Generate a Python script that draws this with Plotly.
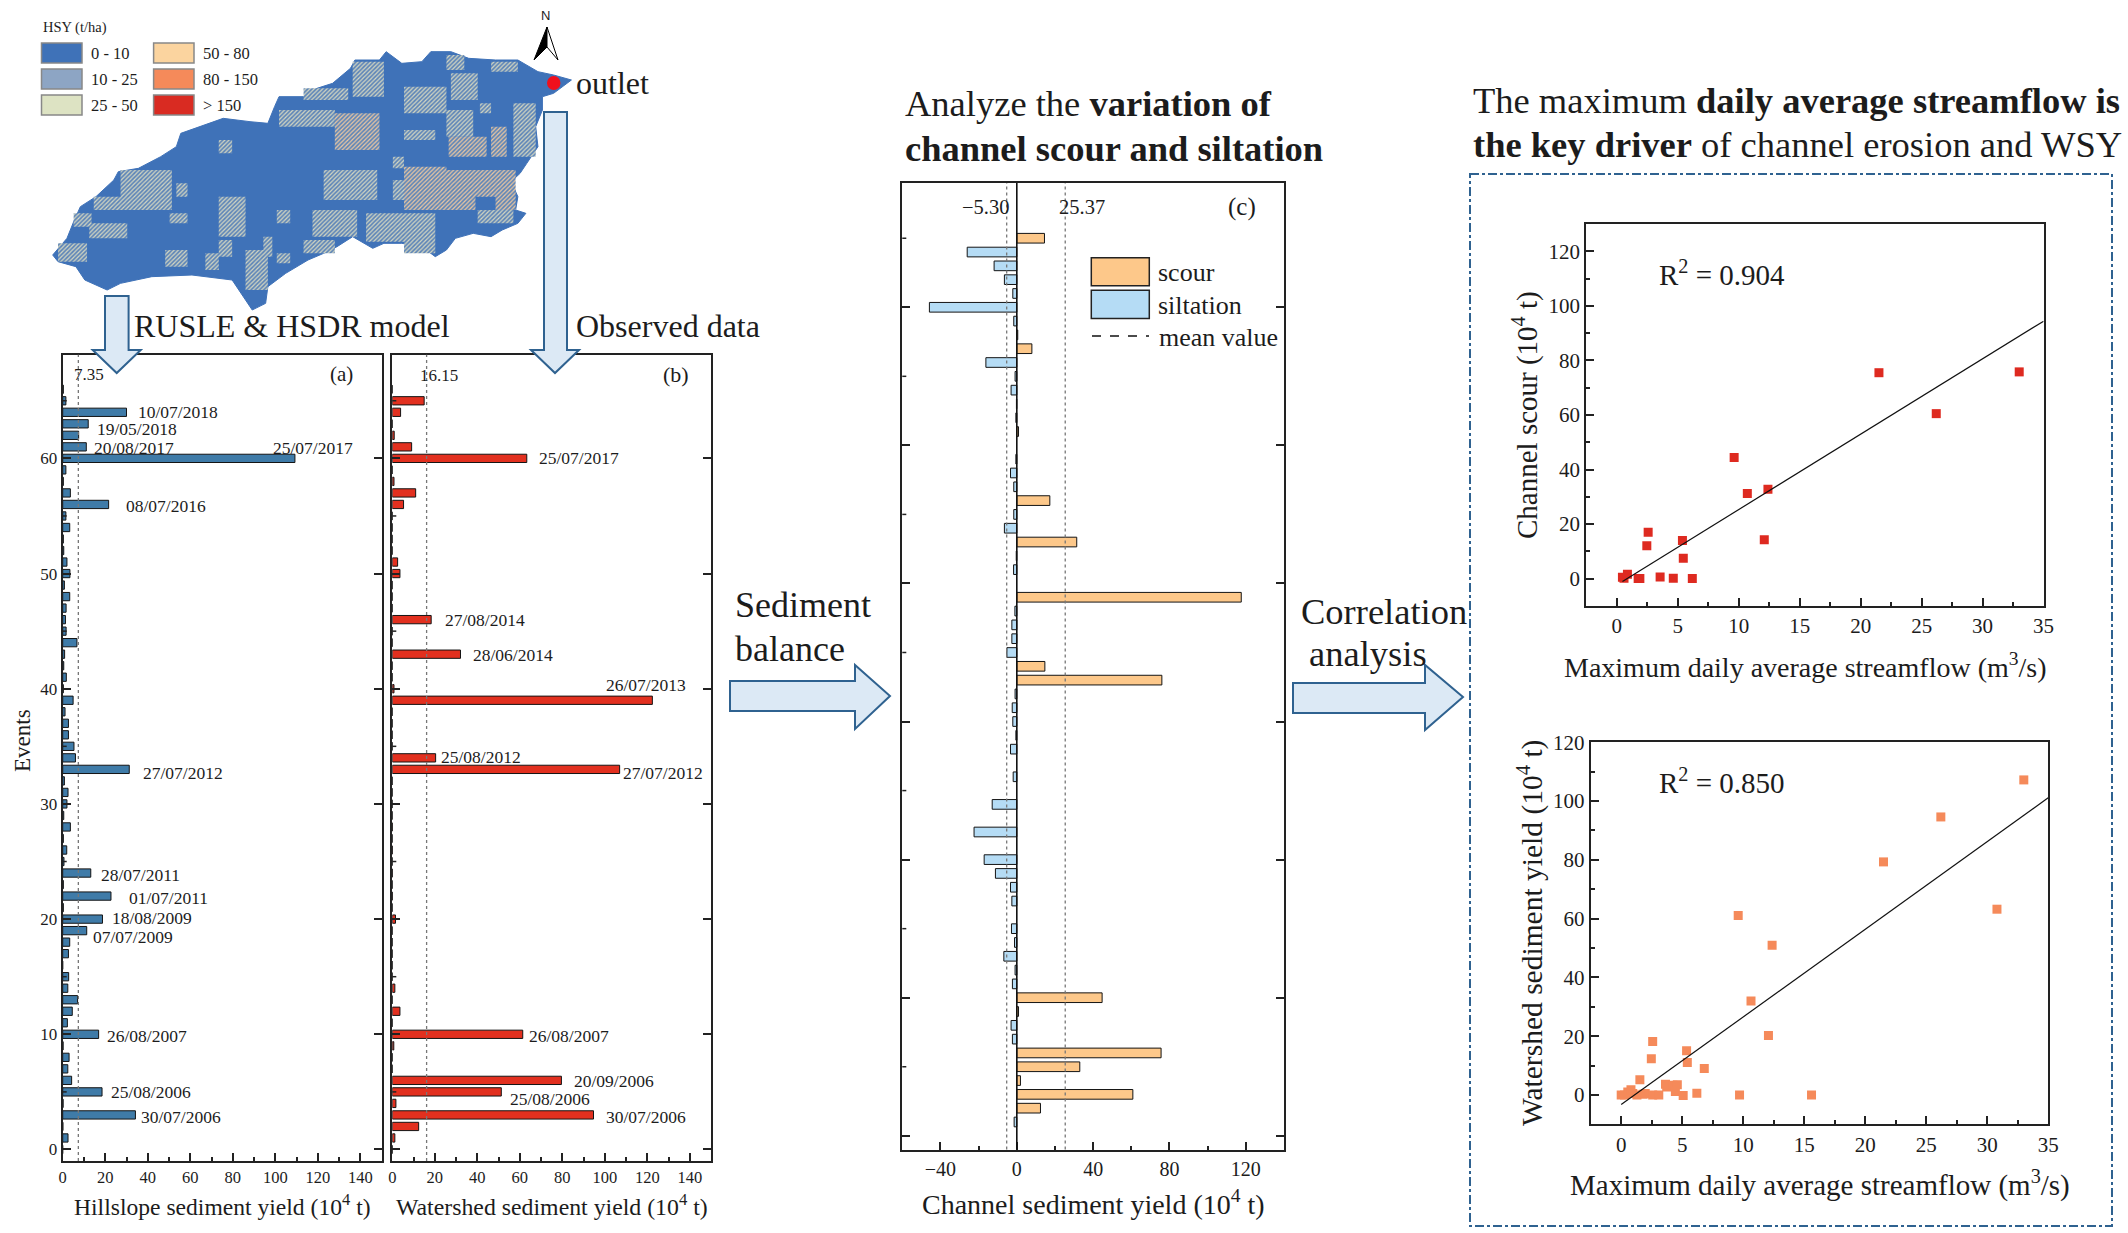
import plotly.graph_objects as go

W, H = 2128, 1233
SERIF = "Liberation Serif"
INK = "#1c1c1c"

events = list(range(0, 67))
hillslope = [0, 2.5, 0.1, 34.2, 0.2, 18.5, 4.2, 2.4, 3, 0.2, 16.9, 2.2, 4.5, 7, 2.4, 2.8, 0, 2.7, 3.3, 11.3,
             18.7, 0.3, 22.7, 0.3, 13.2, 0.6, 1.9, 0.3, 3.6, 0.5, 2, 2.5, 0.8, 31.3, 6, 5.3, 2.7, 2.7, 1.1, 4.9,
             0.3, 1.7, 0.5, 0.9, 6.7, 1.6, 1.3, 1.6, 3.3, 0.8, 3.4, 2, 0.5, 0.3, 3.3, 1.5, 21.6, 3.6, 0.3, 1.5,
             109.2, 11.1, 7.5, 12, 30, 1.5, 0.3]
watershed = [0, 1.2, 12.4, 94.7, 1.7, 51.3, 79.6, 0, 0, 0.7, 61.4, 0, 3.6, 0, 1.2, 0, 0, 0, 0, 0,
             1.5, 0, 0.1, 0, 0.1, 0, 0.1, 0, 0.1, 0, 0, 0, 0, 107, 20.4, 0, 0, 0, 0, 122.4,
             0.8, 0, 0, 32.1, 0, 0, 18.3, 0, 0, 0, 3.6, 2.5, 0, 0, 0, 0, 5.3, 11, 0.8, 0,
             63.3, 9.1, 0.9, 0, 3.9, 15, 0]
channel = [0, -1.4, 12.4, 60.8, 1.9, 33, 75.6, -2.3, -3, 0.9, 44.7, -2.3, -0.9, -6.8, -1.2, -2.8, 0, -2.6, -3.3, -11.2,
           -17.1, 0, -22.4, 0, -12.9, 0, -1.9, 0, -3.3, -0.5, -2.1, -2.4, -0.9, 76, 14.7, -5.2, -2.6, -2.6, -1, 117.6,
           0, -1.7, -0.3, 31.4, -6.5, -1.6, 17.3, -1.6, -3.3, -0.5, 0, 0.9, -0.5, -0.2, -3, -0.9, -16.2, 7.9, 0.5, -1.6,
           -45.8, -2.1, -6.5, -11.9, -26, 14.5, 0]
scour = [v if v > 0 else None for v in channel]
siltation = [v if v < 0 else None for v in channel]

mean_hillslope, mean_watershed, mean_siltation, mean_scour = 7.35, 16.15, -5.30, 25.37

labels_a = [("10/07/2018", 35.1, 64), ("19/05/2018", 15.7, 62.54), ("20/08/2017", 14.3, 60.87),
            ("25/07/2017", 98.6, 60.87), ("08/07/2016", 29.3, 55.87), ("27/07/2012", 37.1, 32.66),
            ("28/07/2011", 17.6, 23.84), ("01/07/2011", 30.9, 21.85), ("18/08/2009", 22.6, 20.09),
            ("07/07/2009", 13.8, 18.47), ("26/08/2007", 20.4, 9.88), ("25/08/2006", 22.1, 4.97),
            ("30/07/2006", 36.5, 2.83)]
labels_b = [("25/07/2017", 68.7, 60.06), ("27/08/2014", 24.1, 45.98), ("28/06/2014", 37.6, 42.9),
            ("26/07/2013", 100.2, 40.3), ("25/08/2012", 22.4, 34.06), ("27/07/2012", 108.2, 32.66),
            ("26/08/2007", 63.9, 9.88), ("20/09/2006", 85.1, 5.98), ("25/08/2006", 55, 4.42),
            ("30/07/2006", 100.2, 2.83)]

flow_scour = [0.47, 0.6, 0.88, 1.76, 1.9, 2.47, 2.58, 3.56, 4.64, 5.39, 5.46, 6.2, 9.63, 10.71, 12.4, 12.1, 21.5, 26.2, 33]
scour_pts = [0.5, 0.2, 1.6, 0.1, 0.1, 12.1, 17, 0.6, 0.2, 14, 7.5, 0.1, 44.4, 31.2, 32.8, 14.3, 75.5, 60.5, 75.8]
fit_scour_x, fit_scour_y = [0.47, 35], [-1, 94.4]

flow_wsy = [0, 0.27, 0.54, 0.8, 0.95, 1.29, 1.53, 1.8, 1.97, 2.47, 2.58, 2.58, 3.08, 3.63, 3.73, 4.24, 4.6, 4.44, 5.08,
            5.36, 5.42, 6.2, 6.81, 9.59, 9.7, 10.64, 12.07, 12.37, 15.6, 21.5, 26.2, 30.8, 33]
wsy_pts = [0, 0, 1, 1.8, 0.5, 0, 5.2, 0.2, 0.5, 12.3, 18.2, 0, 0, 3.6, 2.7, 3.3, 3.5, 1.2, -0.2,
           15, 11, 0.6, 9, 61.1, 0, 32, 20.2, 50.9, 0, 79.3, 94.6, 63.2, 107.2]
fit_wsy_x, fit_wsy_y = [0, 35], [-3.3, 101.1]

hsy_classes = ["0 - 10", "10 - 25", "25 - 50", "50 - 80", "80 - 150", "> 150"]
hsy_colors = ["#3F72B8", "#8DA5C4", "#DDE3C3", "#FBD49F", "#F58A5A", "#D92B22"]

map_outline = [(118,765),(150,715),(165,665),(180,620),(215,590),(255,540),(265,515),(310,505),(360,470),(395,440),
               (405,400),(470,370),(500,355),(560,365),(600,370),(615,320),(625,290),(680,290),(710,265),(745,250),
               (785,205),(795,180),(850,180),(865,155),(900,190),(945,185),(965,155),(1010,155),(1050,175),(1110,180),
               (1160,180),(1205,215),(1240,225),(1280,240),(1260,260),(1240,280),(1215,290),(1215,330),(1200,380),
               (1205,440),(1180,490),(1165,520),(1145,545),(1160,590),(1155,630),(1178,640),(1160,670),(1125,690),
               (1100,710),(1060,700),(1020,715),(1000,750),(975,770),(945,740),(900,730),(860,730),(835,745),(790,710),
               (755,740),(725,760),(690,780),(640,820),(600,860),(595,910),(565,930),(540,880),(520,840),(430,825),
               (340,830),(270,850),(240,870),(190,840),(170,800),(130,785)]
mixed_blocks = [(790,185,860,290),(680,265,780,300),(1000,165,1040,210),(1010,220,1070,300),(905,260,1000,340),
                (1100,185,1160,215),(1075,310,1100,340),(1150,310,1200,470),(625,330,750,380),(905,390,975,420),
                (1000,330,1060,410),(880,470,905,505),(725,510,845,600),(880,540,905,600),(820,640,905,725),
                (905,640,975,760),(1070,630,1150,670),(270,510,385,630),(210,590,270,630),(165,640,205,680),
                (200,670,285,715),(130,730,195,785),(370,750,420,800),(460,760,490,810),(490,720,520,770),
                (590,710,610,770),(620,630,650,670),(550,750,600,870),(620,760,650,790),(680,720,750,760),
                (700,630,800,710),(490,590,550,710),(380,640,420,670),(395,550,420,590),(490,420,520,460)]
warm_blocks = [(750,340,850,450),(1005,410,1090,470),(1100,380,1135,470),(905,500,1000,630),(1000,510,1065,630),
               (1110,510,1155,630),(1065,510,1110,590)]

def zx(v): return v / 2.24
def zy(v): return v / 3

def block_trace(blocks, fg):
    xs, ys = [], []
    for a, b, c, d in blocks:
        xs += [zx(a), zx(c), zx(c), zx(a), zx(a), None]
        ys += [zy(b), zy(b), zy(d), zy(d), zy(b), None]
    return go.Scatter(x=xs, y=ys, mode="none", fill="toself", xaxis="x6", yaxis="y6", hoverinfo="skip",
                      fillpattern=dict(shape="/", fgcolor=fg, bgcolor="#5F86B8", size=3, solidity=0.4, fillmode="replace"))

fig = go.Figure()

def add_bar(vals, color, ax, width=0.72):
    fig.add_trace(go.Bar(x=vals, y=events, orientation="h", width=width, xaxis=ax, yaxis=ax.replace("x", "y"),
                         marker=dict(color=color, line=dict(color="#141414", width=1))))

add_bar(hillslope, "#3F7BA8", "x")
add_bar(watershed, "#E2301F", "x2")
add_bar(scour, "#FDC88A", "x3", 0.7)
add_bar(siltation, "#B5DCF5", "x3", 0.7)

fig.add_trace(go.Scatter(x=flow_scour, y=scour_pts, mode="markers", xaxis="x4", yaxis="y4",
                         marker=dict(symbol="square", size=9, color="#DE2A20")))
fig.add_trace(go.Scatter(x=fit_scour_x, y=fit_scour_y, mode="lines", xaxis="x4", yaxis="y4",
                         line=dict(color="#111", width=1.2)))
fig.add_trace(go.Scatter(x=flow_wsy, y=wsy_pts, mode="markers", xaxis="x5", yaxis="y5",
                         marker=dict(symbol="square", size=9, color="#F58A5A")))
fig.add_trace(go.Scatter(x=fit_wsy_x, y=fit_wsy_y, mode="lines", xaxis="x5", yaxis="y5",
                         line=dict(color="#111", width=1.2)))

fig.add_trace(go.Scatter(x=[zx(p[0]) for p in map_outline] + [zx(map_outline[0][0])],
                         y=[zy(p[1]) for p in map_outline] + [zy(map_outline[0][1])],
                         mode="lines", fill="toself", fillcolor="#3F72B8", line=dict(color="#3F72B8", width=1),
                         xaxis="x6", yaxis="y6", hoverinfo="skip"))
fig.add_trace(block_trace(mixed_blocks, "#D5D8C2"))
fig.add_trace(block_trace(warm_blocks, "#EFC9A0"))

def dom_x(a, b): return [a / W, b / W]
def dom_y(top, bottom): return [1 - bottom / H, 1 - top / H]

def axis(dom, rng, size, **kw):
    d = dict(domain=dom, range=rng, showline=True, linecolor="#222", linewidth=2, showgrid=False, zeroline=False,
             ticks="inside", ticklen=8, tickwidth=1.5, tickcolor="#222", automargin=False,
             tickfont=dict(family=SERIF, size=size, color=INK), fixedrange=True)
    d.update(kw)
    return d

top_ab, bot_ab = 354.7, 1161
top_c, bot_c = 183, 1149.6
minor_x10 = dict(ticks="inside", ticklen=4, tickwidth=1.5, tickcolor="#222", dtick=10)

layout = dict(
    xaxis=axis(dom_x(62.7, 381.7), [0, 150], 16.5, dtick=20, tick0=0, mirror=True, minor=minor_x10, anchor="y"),
    yaxis=axis(dom_y(top_ab, bot_ab), [-1, 69], 17, dtick=10, tick0=0, mirror="ticks", anchor="x"),
    xaxis2=axis(dom_x(392.3, 711), [0, 150], 16.5, dtick=20, tick0=0, mirror=True, minor=minor_x10, anchor="y2"),
    yaxis2=axis(dom_y(top_ab, bot_ab), [-1, 69], 17, dtick=10, tick0=0, mirror="ticks", showticklabels=False, anchor="x2"),
    xaxis3=axis(dom_x(902.3, 1284), [-60, 140], 20, tickvals=[-40, 0, 40, 80, 120], mirror=True,
                minor=dict(ticks="inside", ticklen=4, tickwidth=1.5, tickcolor="#222", tickvals=[-20, 20, 60, 100]), anchor="y3"),
    yaxis3=axis(dom_y(top_c, bot_c), [-1, 69], 17, dtick=10, tick0=0, mirror="ticks", showticklabels=False, anchor="x3"),
    xaxis4=axis(dom_x(1586.2, 2043.6), [-2.5, 35], 21, dtick=5, tick0=0, mirror=True,
                minor=dict(ticks="inside", ticklen=4, tickwidth=1.5, tickcolor="#222", dtick=2.5), anchor="y4"),
    yaxis4=axis(dom_y(224, 606), [-10, 130], 21, dtick=20, tick0=0, mirror=True,
                minor=dict(ticks="inside", ticklen=4, tickwidth=1.5, tickcolor="#222", dtick=10), anchor="x4"),
    xaxis5=axis(dom_x(1590.7, 2048.2), [-2.5, 35], 21, dtick=5, tick0=0, mirror=True,
                minor=dict(ticks="inside", ticklen=4, tickwidth=1.5, tickcolor="#222", dtick=2.5), anchor="y5"),
    yaxis5=axis(dom_y(742.3, 1124.3), [-10, 120], 21, dtick=20, tick0=0, mirror=True,
                minor=dict(ticks="inside", ticklen=4, tickwidth=1.5, tickcolor="#222", dtick=10), anchor="x5"),
    xaxis6=dict(domain=[0, 1], range=[0, W], visible=False, fixedrange=True, anchor="y6", automargin=False),
    yaxis6=dict(domain=[0, 1], range=[H, 0], visible=False, fixedrange=True, anchor="x6", automargin=False),
)

shapes, notes = [], []

def T(x, y, text, size, anchor="left", angle=0, family=SERIF, color=INK):
    notes.append(dict(x=x, y=y, xref="x6", yref="y6", text=text, showarrow=False, xanchor=anchor, yanchor="middle",
                      textangle=angle, font=dict(family=family, size=size, color=color), borderpad=0))

def poly(points, fill, line, width=2):
    path = "M " + " L ".join(f"{a} {b}" for a, b in points) + " Z"
    shapes.append(dict(type="path", path=path, xref="x6", yref="y6", fillcolor=fill, layer="above",
                       line=dict(color=line, width=width)))

def rect(x0, y0, x1, y1, fill, line="#888", width=1.5):
    shapes.append(dict(type="rect", x0=x0, y0=y0, x1=x1, y1=y1, xref="x6", yref="y6", fillcolor=fill, layer="above",
                       line=dict(color=line, width=width)))

# left-side short ticks at odd fives, and dotted mean lines
for ax_suffix, w_px in (("", 319), ("2", 318.7), ("3", 381.7)):
    for e in range(5, 70, 10):
        shapes.append(dict(type="line", xref=f"x{ax_suffix} domain", yref=f"y{ax_suffix}", x0=0, x1=4 / w_px, y0=e, y1=e,
                           line=dict(color="#222", width=1.5)))
for ax_suffix, v in (("", mean_hillslope), ("2", mean_watershed), ("3", mean_siltation), ("3", mean_scour)):
    shapes.append(dict(type="line", xref=f"x{ax_suffix}", yref=f"y{ax_suffix} domain", x0=v, x1=v, y0=0, y1=1,
                       line=dict(color="#777", width=1.3, dash="dot")))
shapes.append(dict(type="line", xref="x3", yref="y3 domain", x0=0, x1=0, y0=0, y1=1, line=dict(color="#111", width=1.6)))

for txt, xv, yv in labels_a:
    notes.append(dict(x=xv, y=yv, xref="x", yref="y", text=txt, showarrow=False, xanchor="left", yanchor="middle",
                      font=dict(family=SERIF, size=17.5, color=INK), borderpad=0))
for txt, xv, yv in labels_b:
    notes.append(dict(x=xv, y=yv, xref="x2", yref="y2", text=txt, showarrow=False, xanchor="left", yanchor="middle",
                      font=dict(family=SERIF, size=17.5, color=INK), borderpad=0))

T(73, 374, "7.35", 17)
T(419, 375, "16.15", 17)
T(341, 374, "(a)", 21, "center")
T(676, 374, "(b)", 22, "center")
T(1010, 207, "−5.30", 20.5, "right")
T(1058, 207, "25.37", 20.5)
T(1242, 207, "(c)", 25, "center")

rect(1091.3, 257.8, 1149.3, 285.7, "#FDC88A", "#222")
rect(1091.3, 290.2, 1149.3, 318.4, "#B5DCF5", "#222")
shapes.append(dict(type="line", x0=1092, x1=1149, y0=336, y1=336, xref="x6", yref="y6", line=dict(color="#111", width=1.6, dash="dash")))
T(1157, 272, "scour", 26)
T(1157, 305, "siltation", 26)
T(1158, 337, "mean value", 26)

T(222, 1205, "Hillslope sediment yield (10<sup>4</sup> t)", 23.6, "center")
T(552, 1205, "Watershed sediment yield (10<sup>4</sup> t)", 23.8, "center")
T(1093, 1202, "Channel sediment yield (10<sup>4</sup> t)", 28, "center")
T(22, 741, "Events", 23, "center", -90)

T(1805, 665, "Maximum daily average streamflow (m<sup>3</sup>/s)", 28, "center")
T(1820, 1183, "Maximum daily average streamflow (m<sup>3</sup>/s)", 29, "center")
T(1525, 415, "Channel scour (10<sup>4</sup> t)", 29, "center", -90)
T(1530, 933, "Watershed sediment yield (10<sup>4</sup> t)", 29.5, "center", -90)
T(1658, 273, "R<sup>2</sup> = 0.904", 29)
T(1658, 781, "R<sup>2</sup> = 0.850", 29)

T(904, 103, "Analyze the <b>variation of</b>", 36.5)
T(904, 148, "<b>channel scour and siltation</b>", 36.5)
T(1472, 100, "The maximum <b>daily average streamflow is</b>", 36.5)
T(1472, 144, "<b>the key driver</b> of channel erosion and WSY", 36.5)
T(734, 605, "Sediment", 36)
T(734, 649, "balance", 36)
T(1300, 611, "Correlation", 36.5)
T(1308, 653, "analysis", 36.5)
T(133, 326, "RUSLE &amp; HSDR model", 32)
T(575, 326, "Observed data", 32)
T(575, 83, "outlet", 32)

# down arrows
poly([(105, 296), (128.6, 296), (128.6, 350), (140.7, 350), (116.7, 373), (92.7, 350), (105, 350)], "#DCE9F5", "#2F6290")
poly([(544, 112), (567, 112), (567, 350), (579, 350), (555, 373), (531, 350), (544, 350)], "#DCE9F5", "#2F6290")
# right arrows
poly([(730, 681), (855, 681), (855, 665), (890, 696), (855, 729), (855, 711), (730, 711)], "#DCE9F5", "#2F6290")
poly([(1293, 683), (1425, 683), (1425, 665), (1463, 697), (1425, 730), (1425, 713), (1293, 713)], "#DCE9F5", "#2F6290")

# dash-dot frame
shapes.append(dict(type="rect", x0=1470, y0=174, x1=2112, y1=1226, xref="x6", yref="y6", layer="above",
                   line=dict(color="#2F6290", width=2, dash="dashdot")))

# north arrow and outlet point
poly([(547, 27), (534, 60), (547, 47)], "#000", "#000", 1)
poly([(547, 27), (558, 60), (547, 47)], "#fff", "#000", 1)
T(545.5, 15, "N", 13, "center", family="Liberation Sans")
shapes.append(dict(type="circle", x0=547, x1=560.5, y0=76, y1=90, xref="x6", yref="y6", fillcolor="#F0101C",
                   line=dict(width=0), layer="above"))

# map legend
T(41.5, 27, "HSY (t/ha)", 14.5)
swatch_x = [(41.5, 82), (41.5, 82), (41.5, 82), (153.6, 194), (153.6, 194), (153.6, 194)]
swatch_y = [(43, 63), (69, 89), (95, 115), (43, 63), (69, 89), (95, 115)]
for name, col, sx, sy in zip(hsy_classes, hsy_colors, swatch_x, swatch_y):
    rect(sx[0], sy[0], sx[1], sy[1], col)
    T(sx[1] + 7.5, (sy[0] + sy[1]) / 2, name, 16.5)

layout.update(width=W, height=H, margin=dict(l=0, r=0, t=0, b=0), autosize=False, showlegend=False, barmode="overlay",
              paper_bgcolor="white", plot_bgcolor="rgba(0,0,0,0)", shapes=shapes, annotations=notes)
fig.update_layout(**layout)
fig.write_html("out.html", config=dict(displayModeBar=False, responsive=False),
               post_script="document.body.style.margin='0';document.body.style.overflow='hidden';")
